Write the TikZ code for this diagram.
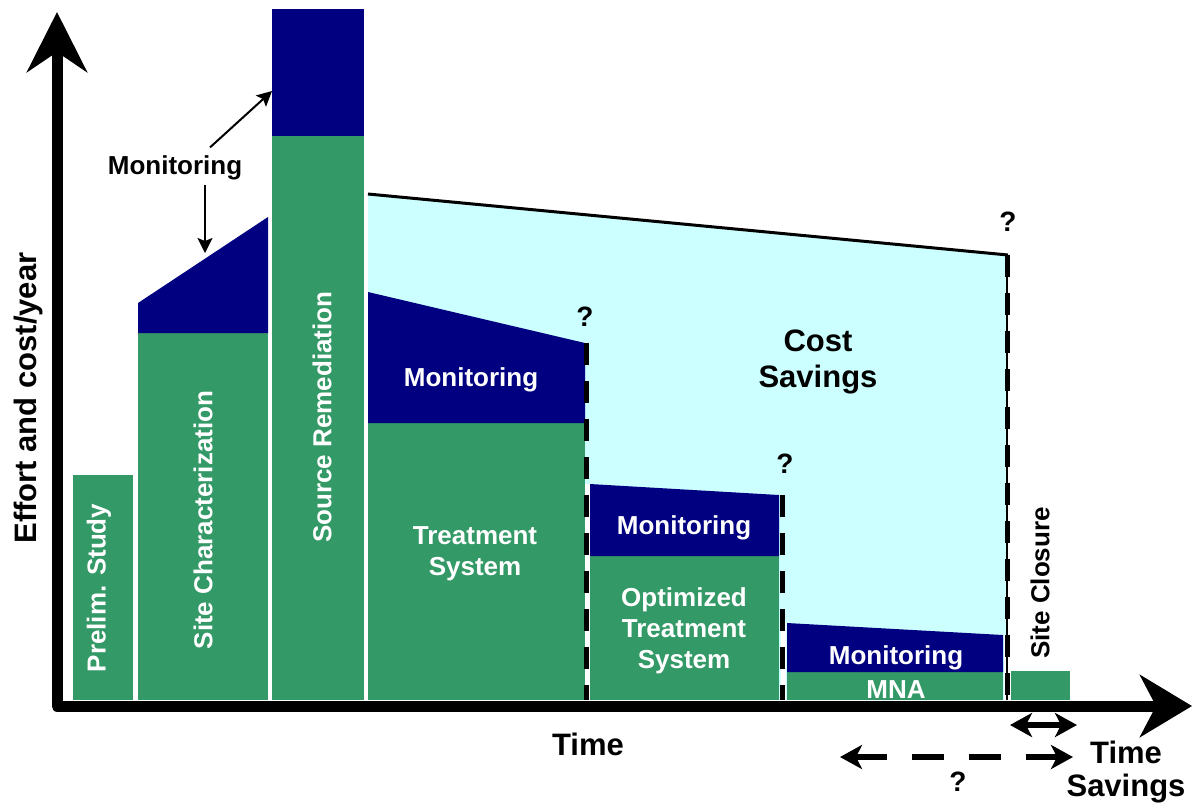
\documentclass[tikz,border=0pt]{standalone}
\usepackage{fontspec}
\setmainfont{Liberation Sans}
\usetikzlibrary{arrows.meta}
\definecolor{sitegreen}{RGB}{51,153,102}
\definecolor{monnavy}{RGB}{0,0,128}
\definecolor{savecyan}{RGB}{204,255,255}

\begin{document}
\begin{tikzpicture}[x=0.5pt,y=-0.5pt]
    \tikzstyle{greenfill} = [fill=sitegreen]
    \tikzstyle{bluefill} = [fill=monnavy]
    \tikzstyle{lbl} = [font=\bfseries\fontsize{13}{15.5}\selectfont,inner sep=0pt,align=center]
    \tikzstyle{wlbl} = [lbl,text=white]
    \tikzstyle{biglbl} = [font=\bfseries\fontsize{15.5}{18}\selectfont,inner sep=0pt,align=center]
    \tikzstyle{qlbl} = [font=\bfseries\fontsize{14}{16}\selectfont,inner sep=0pt]
    \tikzstyle{gapline} = [white,line width=2.5pt]
    \tikzstyle{stopline} = [black,line width=2.5pt,dash pattern=on 11pt off 8pt]
    \tikzstyle{monarrow} = [line width=1pt,-{Stealth[length=7.5pt,width=7.5pt,inset=1.5pt]}]

    \useasboundingbox (0,0) rectangle (1192,805);

    % cost savings area
    \fill[savecyan] (368,194)--(1008,255)--(1008,700)--(368,700)--cycle;
    \draw[line width=1.5pt] (368,194)--(1008,255);

    % bars before the treatment
    \fill[greenfill] (73,475) rectangle (133,700);
    \fill[greenfill] (138,333) rectangle (268,700);
    \fill[bluefill] (138,303)--(268,217)--(268,333)--(138,333)--cycle;
    \fill[greenfill] (272,136) rectangle (364,700);
    \fill[bluefill] (272,9) rectangle (364,136);

    % treatment, optimized, MNA
    \fill[greenfill] (368,423) rectangle (585,700);
    \fill[bluefill] (368,292)--(585,343)--(585,423)--(368,423)--cycle;
    \draw[gapline] (587.5,484)--(587.5,700);
    \fill[greenfill] (590,556) rectangle (779,700);
    \fill[bluefill] (590,484)--(779,495)--(779,556)--(590,556)--cycle;
    \draw[gapline] (783,623)--(783,700);
    \fill[greenfill] (787,672) rectangle (1003,700);
    \fill[bluefill] (787,623)--(1003,635)--(1003,672)--(787,672)--cycle;
    \fill[white] (1003.5,635) rectangle (1011,700);
    \fill[greenfill] (1011,671) rectangle (1070,700);

    % end of each phase
    \draw[stopline] (586.5,343)--(586.5,700);
    \draw[stopline] (782.5,495)--(782.5,700);
    \draw[line width=0.8pt] (1007,255)--(1007,700);
    \draw[stopline] (1007,255)--(1007,700);

    % axes
    \draw[line width=5.5pt,line join=round,
          {Stealth[length=30pt,width=30pt,inset=10pt]}-{Stealth[length=26pt,width=31pt,inset=8pt]}]
          (57,12)--(57,706)--(1192,706);

    % labels in the bars
    \node[wlbl,rotate=90] (prelim) at (99,588) {Prelim. Study};
    \node[wlbl,rotate=90] (sitechar) at (203,520) {Site Characterization};
    \node[wlbl,rotate=90] (source) at (322,417) {Source Remediation};
    \node[wlbl] (treatmon) at (471,380) {Monitoring};
    \node[wlbl] (treat) at (475,554) {Treatment\\System};
    \node[wlbl] (optmon) at (684,528) {Monitoring};
    \node[wlbl] (opt) at (684,631) {Optimized\\Treatment\\System};
    \node[wlbl] (mnamon) at (896,658) {Monitoring};
    \node[wlbl] (mna) at (896,690) {MNA};
    \node[lbl,rotate=90] (closure) at (1040,583) {Site Closure};
    \node[biglbl] (savings) at (818,362) {Cost\\Savings};

    % monitoring pointer
    \node[lbl] (monlbl) at (175,168) {Monitoring};
    \coordinate (srcmon) at (272,91);
    \coordinate (charmon) at (205,253);
    \draw[monarrow] ([xshift=17.5pt,yshift=4pt]monlbl.north)--(srcmon);
    \draw[monarrow] ([xshift=15pt,yshift=-2pt]monlbl.south)--(charmon);

    % question marks
    \node[qlbl] (q1) at (585,317) {?};
    \node[qlbl] (q2) at (785,464) {?};
    \node[qlbl] (q3) at (1008,222) {?};
    \node[qlbl] (q4) at (958,782) {?};

    % axis titles
    \node[biglbl,rotate=90] (effort) at (28,398) {Effort and cost/year};
    \node[biglbl] (time) at (588,744) {Time};
    \node[biglbl,font=\bfseries\fontsize{15.5}{16.5}\selectfont] (timesave) at (1126,772) {Time\\Savings};

    % time savings
    \coordinate (closeA) at (1010,725);
    \coordinate (closeB) at (1077,725);
    \draw[line width=3pt,{Stealth[length=11pt,width=12pt,inset=3pt]}-{Stealth[length=11pt,width=12pt,inset=3pt]}]
          (closeA)--(closeB);
    \coordinate (saveA) at (840,757);
    \coordinate (saveB) at (1073,757);
    \draw[line width=3pt,dash pattern=on 16pt off 12.5pt,
          {Stealth[length=11pt,width=12pt,inset=3pt]}-{Stealth[length=11pt,width=12pt,inset=3pt]}]
          (saveA)--(saveB);
\end{tikzpicture}
\end{document}
